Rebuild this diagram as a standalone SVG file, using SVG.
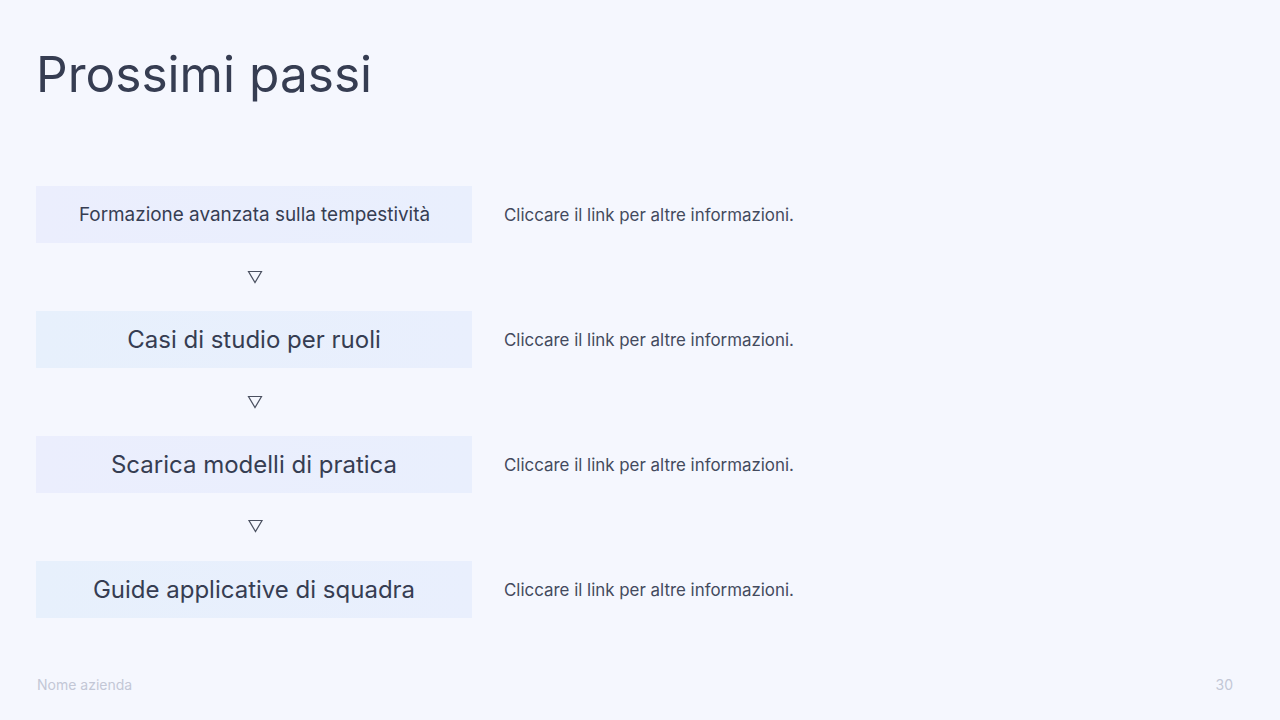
<svg xmlns="http://www.w3.org/2000/svg" width="1280" height="720" viewBox="0 0 1280 720">
<defs>
<linearGradient id="g1" x1="0" y1="0" x2="1" y2="0"><stop offset="0" stop-color="#ebeefd"/><stop offset="1" stop-color="#e9effd"/></linearGradient>
<linearGradient id="g2" x1="0" y1="0" x2="1" y2="0"><stop offset="0" stop-color="#e7f0fc"/><stop offset="1" stop-color="#e9effd"/></linearGradient>
</defs>
<style>
.t{font-family:Inter,"Noto Sans",sans-serif;fill:#363d52}
.box{stroke:none}
.lbl{font-size:24px;text-anchor:middle}
.side{font-size:16.9px;fill:#434a5d}
.arr{fill:none;stroke:#4a5060;stroke-width:1.2;stroke-linejoin:miter}
.foot{font-family:Inter,"Noto Sans",sans-serif;font-size:14px;fill:#c3c7d6}
</style>
<rect width="1280" height="720" fill="#f5f7fe"/>
<text class="t" x="36" y="92" font-size="49.6">Prossimi passi</text>
<g id="node1">
<rect class="box" x="36" y="186" width="436" height="57" fill="url(#g1)"/>
<text class="t lbl" x="254.5" y="221" style="font-size:18.9px">Formazione avanzata sulla tempestività</text>
</g>
<g id="node2">
<rect class="box" x="36" y="311" width="436" height="57" fill="url(#g2)"/>
<text class="t lbl" x="254" y="348">Casi di studio per ruoli</text>
</g>
<g id="node3">
<rect class="box" x="36" y="436" width="436" height="57" fill="url(#g1)"/>
<text class="t lbl" x="254" y="473">Scarica modelli di pratica</text>
</g>
<g id="node4">
<rect class="box" x="36" y="561" width="436" height="57" fill="url(#g2)"/>
<text class="t lbl" x="254" y="598">Guide applicative di squadra</text>
</g>
<g id="connectors">
<path class="arr" d="M248.5 271.5 L261.5 271.5 L255 282.5 Z"/>
<path class="arr" d="M248.5 396.5 L261.5 396.5 L255 407.5 Z"/>
<path class="arr" d="M249 520.5 L262 520.5 L255.5 531.5 Z"/>
</g>
<g id="notes">
<text class="t side" x="504" y="221">Cliccare il link per altre informazioni.</text>
<text class="t side" x="504" y="346">Cliccare il link per altre informazioni.</text>
<text class="t side" x="504" y="471">Cliccare il link per altre informazioni.</text>
<text class="t side" x="504" y="596">Cliccare il link per altre informazioni.</text>
</g>
<text class="foot" x="37" y="690">Nome azienda</text>
<text class="foot" x="1233" y="690" text-anchor="end">30</text>
</svg>
